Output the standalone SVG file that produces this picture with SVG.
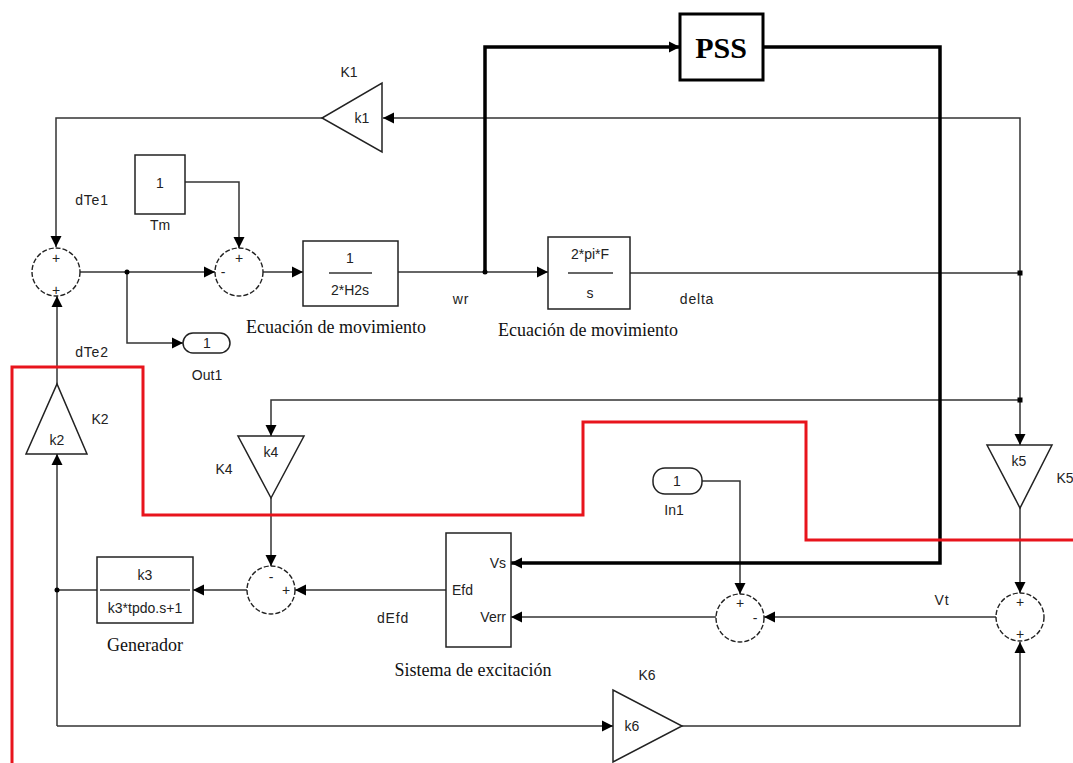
<svg xmlns="http://www.w3.org/2000/svg" width="1073" height="763" viewBox="0 0 1073 763">
<defs>
<style>
.ln{fill:none;stroke:#333;stroke-width:1.5}
.thk{fill:none;stroke:#000;stroke-width:3.5}
.blk{fill:#fff;stroke:#222;stroke-width:1.5}
.sum{fill:#fff;stroke:#222;stroke-width:1.4;stroke-dasharray:5,2}
.t{font-family:"Liberation Sans",Arial,sans-serif;font-size:14px;fill:#222;letter-spacing:0.8px}
.s{font-family:"Liberation Sans",Arial,sans-serif;font-size:14px;fill:#222}
.sg{font-family:"Liberation Sans",Arial,sans-serif;font-size:14px;fill:#222}
.cap{font-family:"Liberation Serif","Times New Roman",serif;font-size:18px;fill:#111}
</style>
<marker id="ah" markerWidth="12" markerHeight="12" refX="11" refY="6" orient="auto" markerUnits="userSpaceOnUse"><path d="M0,0.5 L11,6 L0,11.5 Z" fill="#000"/></marker>
</defs>
<rect width="1073" height="763" fill="#fff"/>

<g id="connectors">
<path class="ln" d="M1020,273 V118 H383" marker-end="url(#ah)"/>
<path class="ln" d="M322,118 H56 V247" marker-end="url(#ah)"/>
<path class="ln" d="M185,182 H239 V248" marker-end="url(#ah)"/>
<path class="ln" d="M80,272 H215" marker-end="url(#ah)"/>
<path class="ln" d="M127,272 V343 H183" marker-end="url(#ah)"/>
<path class="ln" d="M263,272 H303" marker-end="url(#ah)"/>
<path class="ln" d="M398,272 H548" marker-end="url(#ah)"/>
<path class="ln" d="M630,273 H1020 V445" marker-end="url(#ah)"/>
<path class="ln" d="M1020,400 H271 V436" marker-end="url(#ah)"/>
<path class="ln" d="M271,498 V566" marker-end="url(#ah)"/>
<path class="ln" d="M446,590 H295" marker-end="url(#ah)"/>
<path class="ln" d="M247,590 H193" marker-end="url(#ah)"/>
<path class="ln" d="M97,590 H57"/>
<path class="ln" d="M57,726 V454" marker-end="url(#ah)"/>
<path class="ln" d="M57,384 V296" marker-end="url(#ah)"/>
<path class="ln" d="M57,726 H613" marker-end="url(#ah)"/>
<path class="ln" d="M682,726 H1020 V642" marker-end="url(#ah)"/>
<path class="ln" d="M1020,508 V593" marker-end="url(#ah)"/>
<path class="ln" d="M996,617 H764" marker-end="url(#ah)"/>
<path class="ln" d="M702,481 H740 V594" marker-end="url(#ah)"/>
<path class="ln" d="M717,617 H511" marker-end="url(#ah)"/>
<path class="thk" d="M485,272 V47 H680" marker-end="url(#ah)"/>
<path class="thk" d="M763,47 H940 V563 H511" marker-end="url(#ah)"/>
<circle cx="127" cy="272" r="2.5" fill="#000"/>
<circle cx="485" cy="272" r="2.5" fill="#000"/>
<circle cx="57" cy="590" r="2.5" fill="#000"/>
<rect x="1017.5" y="270.5" width="5" height="5" fill="#000"/>
<rect x="1017.5" y="397.5" width="5" height="5" fill="#000"/>
</g>

<g id="sum1"><circle class="sum" cx="56" cy="272" r="24"/><text class="sg" x="56" y="263" text-anchor="middle">+</text><text class="sg" x="56" y="295" text-anchor="middle">+</text></g>
<g id="sum2"><circle class="sum" cx="239" cy="272" r="24"/><text class="sg" x="239" y="263" text-anchor="middle">+</text><text class="sg" x="223" y="277" text-anchor="middle">-</text></g>
<g id="sum3"><circle class="sum" cx="271" cy="590" r="24"/><text class="sg" x="271" y="582" text-anchor="middle">-</text><text class="sg" x="286" y="595" text-anchor="middle">+</text></g>
<g id="sum4"><circle class="sum" cx="1020" cy="617" r="24"/><text class="sg" x="1020" y="607" text-anchor="middle">+</text><text class="sg" x="1020" y="639" text-anchor="middle">+</text></g>
<g id="sum5"><circle class="sum" cx="740" cy="618" r="24"/><text class="sg" x="740" y="608" text-anchor="middle">+</text><text class="sg" x="755" y="623" text-anchor="middle">-</text></g>

<g id="k1"><path class="blk" d="M382,83 V152 L322,118 Z"/><text class="s" x="362" y="123" text-anchor="middle">k1</text><text class="s" x="349" y="77" text-anchor="middle">K1</text></g>
<g id="tm"><rect class="blk" x="135" y="155" width="50" height="59"/><text class="s" x="160" y="188" text-anchor="middle">1</text><text class="s" x="160" y="230" text-anchor="middle">Tm</text></g>
<g id="out1"><rect class="blk" x="183" y="333" width="47" height="20" rx="10"/><text class="s" x="207" y="348" text-anchor="middle">1</text><text class="s" x="207" y="380" text-anchor="middle">Out1</text></g>
<g id="mov1"><rect class="blk" x="303" y="241" width="95" height="65"/><text class="s" x="350" y="263" text-anchor="middle">1</text><line class="ln" x1="329" y1="273" x2="372" y2="273"/><text class="s" x="350" y="295" text-anchor="middle">2*H2s</text><text class="cap" x="336" y="333" text-anchor="middle">Ecuación de movimiento</text></g>
<g id="mov2"><rect class="blk" x="548" y="237" width="82" height="72"/><text class="s" x="590" y="259" text-anchor="middle">2*pi*F</text><line class="ln" x1="568" y1="273" x2="613" y2="273"/><text class="s" x="590" y="298" text-anchor="middle">s</text><text class="cap" x="588" y="336" text-anchor="middle">Ecuación de movimiento</text></g>
<g id="pss"><rect x="680" y="14" width="83" height="66" fill="#fff" stroke="#000" stroke-width="3"/><text x="721" y="58" text-anchor="middle" font-family="Liberation Serif,Times New Roman,serif" font-weight="bold" font-size="30" fill="#000">PSS</text></g>
<g id="k2"><path class="blk" d="M26,454 H87 L57,384 Z"/><text class="s" x="57" y="445" text-anchor="middle">k2</text><text class="s" x="100" y="424" text-anchor="middle">K2</text></g>
<g id="k4"><path class="blk" d="M238,436 H304 L271,498 Z"/><text class="s" x="271" y="457" text-anchor="middle">k4</text><text class="s" x="224" y="474" text-anchor="middle">K4</text></g>
<g id="k5"><path class="blk" d="M987,445 H1052 L1020,508 Z"/><text class="s" x="1019" y="466" text-anchor="middle">k5</text><text class="s" x="1065" y="483" text-anchor="middle">K5</text></g>
<g id="k6"><path class="blk" d="M613,690 V762 L682,726 Z"/><text class="s" x="632" y="731" text-anchor="middle">k6</text><text class="s" x="647" y="680" text-anchor="middle">K6</text></g>
<g id="gen"><rect class="blk" x="97" y="557" width="96" height="66"/><text class="s" x="145" y="580" text-anchor="middle">k3</text><line class="ln" x1="100" y1="590" x2="190" y2="590"/><text class="s" x="145" y="613" text-anchor="middle">k3*tpdo.s+1</text><text class="cap" x="145" y="651" text-anchor="middle">Generador</text></g>
<g id="exc"><rect class="blk" x="446" y="533" width="65" height="114"/><text class="s" x="506" y="568" text-anchor="end">Vs</text><text class="s" x="452" y="595">Efd</text><text class="s" x="506" y="622" text-anchor="end">Verr</text><text class="cap" x="473" y="676" text-anchor="middle">Sistema de excitación</text></g>
<g id="in1"><rect class="blk" x="653" y="468" width="49" height="26" rx="12"/><text class="s" x="677" y="486" text-anchor="middle">1</text><text class="s" x="674" y="515" text-anchor="middle">In1</text></g>

<g id="labels">
<text class="t" x="92" y="205" text-anchor="middle">dTe1</text>
<text class="t" x="92" y="357" text-anchor="middle">dTe2</text>
<text class="t" x="461" y="304" text-anchor="middle">wr</text>
<text class="t" x="697" y="304" text-anchor="middle">delta</text>
<text class="t" x="393" y="623" text-anchor="middle">dEfd</text>
<text class="t" x="942" y="605" text-anchor="middle">Vt</text>
</g>

<path id="boundary" d="M12,763 V367 H143 V515 H583 V422 H806 V540 H1073" fill="none" stroke="#e8141c" stroke-width="3"/>
</svg>
